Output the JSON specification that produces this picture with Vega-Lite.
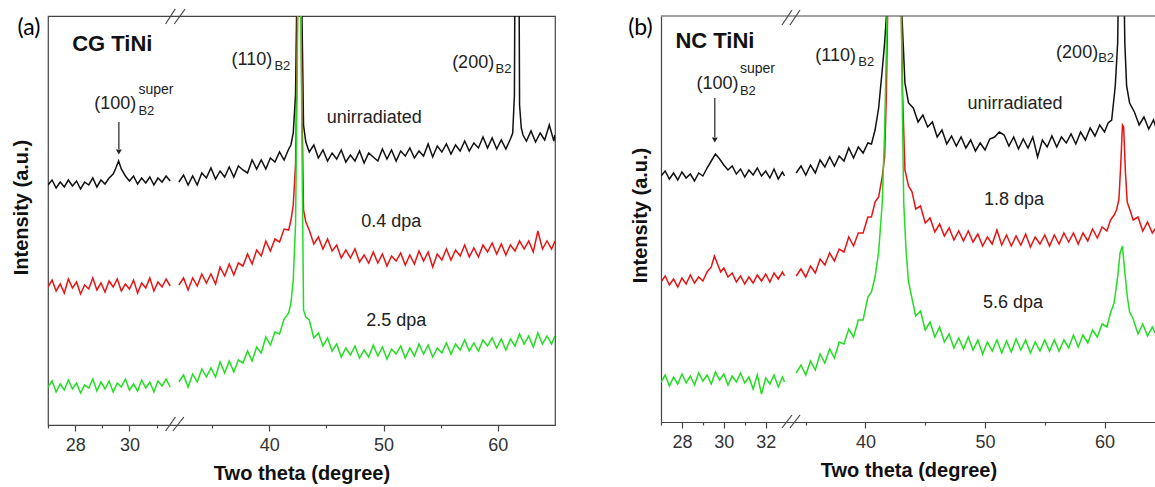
{
"$schema":"https://vega.github.io/schema/vega-lite/v6.json",
"background":"white",
"padding":{"left":10,"top":7,"right":0,"bottom":0},
"bounds":"flush",
"spacing":106,
"config":{"view":{"stroke":"#444","strokeWidth":1.2},"font":"Liberation Sans","text":{"font":"Liberation Sans"},"axis":{"labelFont":"Liberation Sans","titleFont":"Liberation Sans"}},
"datasets":{
"a":[
{"s":"k1","x":27,"y":240},{"s":"k1","x":27.15,"y":245},{"s":"k1","x":27.3,"y":237},{"s":"k1","x":27.45,"y":243},{"s":"k1","x":27.6,"y":238},{"s":"k1","x":27.75,"y":245},{"s":"k1","x":27.9,"y":239},{"s":"k1","x":28.05,"y":244},{"s":"k1","x":28.2,"y":236},{"s":"k1","x":28.35,"y":243},{"s":"k1","x":28.5,"y":240},{"s":"k1","x":28.65,"y":247},{"s":"k1","x":28.8,"y":238},{"s":"k1","x":28.95,"y":245},{"s":"k1","x":29.1,"y":241},{"s":"k1","x":29.25,"y":247},{"s":"k1","x":29.4,"y":251},{"s":"k1","x":29.5,"y":257},{"s":"k1","x":29.6,"y":264},{"s":"k1","x":29.7,"y":256},{"s":"k1","x":29.85,"y":249},{"s":"k1","x":30,"y":244},{"s":"k1","x":30.15,"y":249},{"s":"k1","x":30.3,"y":241},{"s":"k1","x":30.45,"y":247},{"s":"k1","x":30.6,"y":242},{"s":"k1","x":30.75,"y":248},{"s":"k1","x":30.9,"y":240},{"s":"k1","x":31.05,"y":247},{"s":"k1","x":31.2,"y":243},{"s":"k1","x":31.35,"y":249},{"s":"k1","x":31.5,"y":244},
{"s":"k2","x":32.1,"y":243},{"s":"k2","x":32.5,"y":250},{"s":"k2","x":32.9,"y":240},{"s":"k2","x":33.3,"y":249},{"s":"k2","x":33.7,"y":240},{"s":"k2","x":34.1,"y":252},{"s":"k2","x":34.5,"y":247},{"s":"k2","x":34.9,"y":257},{"s":"k2","x":35.3,"y":246},{"s":"k2","x":35.7,"y":254},{"s":"k2","x":36.1,"y":248},{"s":"k2","x":36.5,"y":258},{"s":"k2","x":36.9,"y":248},{"s":"k2","x":37.3,"y":259},{"s":"k2","x":37.7,"y":255},{"s":"k2","x":38.1,"y":252},{"s":"k2","x":38.5,"y":265},{"s":"k2","x":38.9,"y":256},{"s":"k2","x":39.3,"y":265},{"s":"k2","x":39.7,"y":256},{"s":"k2","x":40.1,"y":267},{"s":"k2","x":40.5,"y":263},{"s":"k2","x":40.9,"y":273},{"s":"k2","x":41.3,"y":265},{"s":"k2","x":41.7,"y":276},{"s":"k2","x":41.9,"y":280},{"s":"k2","x":42.1,"y":292},{"s":"k2","x":42.3,"y":330},{"s":"k2","x":42.45,"y":460},{"s":"k2","x":42.55,"y":560},{"s":"k2","x":42.7,"y":560},{"s":"k2","x":42.85,"y":420},{"s":"k2","x":43,"y":300},{"s":"k2","x":43.2,"y":283},{"s":"k2","x":43.5,"y":273},{"s":"k2","x":43.9,"y":280},{"s":"k2","x":44.3,"y":267},{"s":"k2","x":44.7,"y":275},{"s":"k2","x":45.1,"y":264},{"s":"k2","x":45.5,"y":272},{"s":"k2","x":45.9,"y":266},{"s":"k2","x":46.3,"y":275},{"s":"k2","x":46.7,"y":263},{"s":"k2","x":47.1,"y":270},{"s":"k2","x":47.5,"y":264},{"s":"k2","x":47.9,"y":274},{"s":"k2","x":48.3,"y":262},{"s":"k2","x":48.7,"y":272},{"s":"k2","x":49.1,"y":268},{"s":"k2","x":49.5,"y":264},{"s":"k2","x":49.9,"y":276},{"s":"k2","x":50.3,"y":266},{"s":"k2","x":50.7,"y":275},{"s":"k2","x":51.1,"y":264},{"s":"k2","x":51.5,"y":274},{"s":"k2","x":51.9,"y":269},{"s":"k2","x":52.3,"y":277},{"s":"k2","x":52.7,"y":267},{"s":"k2","x":53.1,"y":274},{"s":"k2","x":53.5,"y":269},{"s":"k2","x":53.9,"y":281},{"s":"k2","x":54.3,"y":268},{"s":"k2","x":54.7,"y":279},{"s":"k2","x":55.1,"y":273},{"s":"k2","x":55.5,"y":281},{"s":"k2","x":55.9,"y":271},{"s":"k2","x":56.3,"y":280},{"s":"k2","x":56.7,"y":274},{"s":"k2","x":57.1,"y":284},{"s":"k2","x":57.5,"y":274},{"s":"k2","x":57.9,"y":282},{"s":"k2","x":58.3,"y":277},{"s":"k2","x":58.7,"y":288},{"s":"k2","x":59.1,"y":277},{"s":"k2","x":59.5,"y":287},{"s":"k2","x":59.9,"y":276},{"s":"k2","x":60.3,"y":285},{"s":"k2","x":60.7,"y":276},{"s":"k2","x":61.1,"y":286},{"s":"k2","x":61.3,"y":292},{"s":"k2","x":61.45,"y":330},{"s":"k2","x":61.55,"y":600},{"s":"k2","x":61.8,"y":600},{"s":"k2","x":61.9,"y":320},{"s":"k2","x":62.05,"y":297},{"s":"k2","x":62.2,"y":290},{"s":"k2","x":62.5,"y":284},{"s":"k2","x":62.9,"y":294},{"s":"k2","x":63.3,"y":283},{"s":"k2","x":63.7,"y":292},{"s":"k2","x":64.1,"y":285},{"s":"k2","x":64.5,"y":300},{"s":"k2","x":64.9,"y":284},{"s":"k2","x":65,"y":290},
{"s":"r1","x":27,"y":138},{"s":"r1","x":27.15,"y":145},{"s":"r1","x":27.3,"y":134},{"s":"r1","x":27.45,"y":141},{"s":"r1","x":27.6,"y":132},{"s":"r1","x":27.75,"y":146},{"s":"r1","x":27.9,"y":137},{"s":"r1","x":28.05,"y":143},{"s":"r1","x":28.2,"y":131},{"s":"r1","x":28.35,"y":140},{"s":"r1","x":28.5,"y":136},{"s":"r1","x":28.65,"y":147},{"s":"r1","x":28.8,"y":135},{"s":"r1","x":28.95,"y":142},{"s":"r1","x":29.1,"y":133},{"s":"r1","x":29.25,"y":144},{"s":"r1","x":29.4,"y":138},{"s":"r1","x":29.55,"y":146},{"s":"r1","x":29.7,"y":134},{"s":"r1","x":29.85,"y":141},{"s":"r1","x":30,"y":136},{"s":"r1","x":30.15,"y":145},{"s":"r1","x":30.3,"y":132},{"s":"r1","x":30.45,"y":142},{"s":"r1","x":30.6,"y":137},{"s":"r1","x":30.75,"y":147},{"s":"r1","x":30.9,"y":134},{"s":"r1","x":31.05,"y":143},{"s":"r1","x":31.2,"y":138},{"s":"r1","x":31.35,"y":146},{"s":"r1","x":31.5,"y":139},
{"s":"r2","x":32.1,"y":140},{"s":"r2","x":32.5,"y":147},{"s":"r2","x":32.9,"y":135},{"s":"r2","x":33.3,"y":147},{"s":"r2","x":33.7,"y":139},{"s":"r2","x":34.1,"y":151},{"s":"r2","x":34.5,"y":142},{"s":"r2","x":34.9,"y":151},{"s":"r2","x":35.3,"y":141},{"s":"r2","x":35.7,"y":158},{"s":"r2","x":36.1,"y":149},{"s":"r2","x":36.5,"y":161},{"s":"r2","x":36.9,"y":150},{"s":"r2","x":37.3,"y":162},{"s":"r2","x":37.7,"y":159},{"s":"r2","x":38.1,"y":171},{"s":"r2","x":38.5,"y":161},{"s":"r2","x":38.9,"y":175},{"s":"r2","x":39.3,"y":169},{"s":"r2","x":39.7,"y":184},{"s":"r2","x":40.1,"y":174},{"s":"r2","x":40.5,"y":186},{"s":"r2","x":40.9,"y":183},{"s":"r2","x":41.3,"y":196},{"s":"r2","x":41.7,"y":195},{"s":"r2","x":41.9,"y":205},{"s":"r2","x":42.1,"y":220},{"s":"r2","x":42.3,"y":260},{"s":"r2","x":42.45,"y":380},{"s":"r2","x":42.55,"y":520},{"s":"r2","x":42.7,"y":520},{"s":"r2","x":42.85,"y":330},{"s":"r2","x":43,"y":215},{"s":"r2","x":43.2,"y":203},{"s":"r2","x":43.5,"y":195},{"s":"r2","x":43.9,"y":181},{"s":"r2","x":44.3,"y":188},{"s":"r2","x":44.7,"y":176},{"s":"r2","x":45.1,"y":186},{"s":"r2","x":45.5,"y":174},{"s":"r2","x":45.9,"y":180},{"s":"r2","x":46.3,"y":167},{"s":"r2","x":46.7,"y":175},{"s":"r2","x":47.1,"y":167},{"s":"r2","x":47.5,"y":176},{"s":"r2","x":47.9,"y":163},{"s":"r2","x":48.3,"y":170},{"s":"r2","x":48.7,"y":162},{"s":"r2","x":49.1,"y":173},{"s":"r2","x":49.5,"y":162},{"s":"r2","x":49.9,"y":171},{"s":"r2","x":50.3,"y":159},{"s":"r2","x":50.7,"y":169},{"s":"r2","x":51.1,"y":164},{"s":"r2","x":51.5,"y":172},{"s":"r2","x":51.9,"y":160},{"s":"r2","x":52.3,"y":170},{"s":"r2","x":52.7,"y":161},{"s":"r2","x":53.1,"y":174},{"s":"r2","x":53.5,"y":164},{"s":"r2","x":53.9,"y":173},{"s":"r2","x":54.3,"y":158},{"s":"r2","x":54.7,"y":171},{"s":"r2","x":55.1,"y":165},{"s":"r2","x":55.5,"y":176},{"s":"r2","x":55.9,"y":165},{"s":"r2","x":56.3,"y":175},{"s":"r2","x":56.7,"y":169},{"s":"r2","x":57.1,"y":180},{"s":"r2","x":57.5,"y":168},{"s":"r2","x":57.9,"y":177},{"s":"r2","x":58.3,"y":168},{"s":"r2","x":58.7,"y":180},{"s":"r2","x":59.1,"y":173},{"s":"r2","x":59.5,"y":182},{"s":"r2","x":59.9,"y":171},{"s":"r2","x":60.3,"y":181},{"s":"r2","x":60.7,"y":170},{"s":"r2","x":61.1,"y":180},{"s":"r2","x":61.5,"y":174},{"s":"r2","x":61.9,"y":184},{"s":"r2","x":62.3,"y":176},{"s":"r2","x":62.7,"y":184},{"s":"r2","x":63.1,"y":173},{"s":"r2","x":63.5,"y":194},{"s":"r2","x":63.9,"y":176},{"s":"r2","x":64.3,"y":184},{"s":"r2","x":64.7,"y":176},{"s":"r2","x":65,"y":184},
{"s":"g1","x":27,"y":38},{"s":"g1","x":27.15,"y":44},{"s":"g1","x":27.3,"y":33},{"s":"g1","x":27.45,"y":41},{"s":"g1","x":27.6,"y":35},{"s":"g1","x":27.75,"y":45},{"s":"g1","x":27.9,"y":36},{"s":"g1","x":28.05,"y":42},{"s":"g1","x":28.2,"y":32},{"s":"g1","x":28.35,"y":40},{"s":"g1","x":28.5,"y":37},{"s":"g1","x":28.65,"y":46},{"s":"g1","x":28.8,"y":34},{"s":"g1","x":28.95,"y":43},{"s":"g1","x":29.1,"y":36},{"s":"g1","x":29.25,"y":44},{"s":"g1","x":29.4,"y":33},{"s":"g1","x":29.55,"y":42},{"s":"g1","x":29.7,"y":38},{"s":"g1","x":29.85,"y":46},{"s":"g1","x":30,"y":35},{"s":"g1","x":30.15,"y":41},{"s":"g1","x":30.3,"y":34},{"s":"g1","x":30.45,"y":45},{"s":"g1","x":30.6,"y":37},{"s":"g1","x":30.75,"y":43},{"s":"g1","x":30.9,"y":33},{"s":"g1","x":31.05,"y":44},{"s":"g1","x":31.2,"y":39},{"s":"g1","x":31.35,"y":46},{"s":"g1","x":31.5,"y":38},
{"s":"g2","x":32.1,"y":43},{"s":"g2","x":32.5,"y":50},{"s":"g2","x":32.9,"y":38},{"s":"g2","x":33.3,"y":51},{"s":"g2","x":33.7,"y":43},{"s":"g2","x":34.1,"y":56},{"s":"g2","x":34.5,"y":48},{"s":"g2","x":34.9,"y":57},{"s":"g2","x":35.3,"y":48},{"s":"g2","x":35.7,"y":63},{"s":"g2","x":36.1,"y":52},{"s":"g2","x":36.5,"y":64},{"s":"g2","x":36.9,"y":53},{"s":"g2","x":37.3,"y":65},{"s":"g2","x":37.7,"y":62},{"s":"g2","x":38.1,"y":74},{"s":"g2","x":38.5,"y":64},{"s":"g2","x":38.9,"y":78},{"s":"g2","x":39.3,"y":72},{"s":"g2","x":39.7,"y":88},{"s":"g2","x":40.1,"y":80},{"s":"g2","x":40.5,"y":93},{"s":"g2","x":40.9,"y":91},{"s":"g2","x":41.3,"y":106},{"s":"g2","x":41.7,"y":112},{"s":"g2","x":41.9,"y":122},{"s":"g2","x":42.1,"y":145},{"s":"g2","x":42.3,"y":200},{"s":"g2","x":42.45,"y":350},{"s":"g2","x":42.55,"y":520},{"s":"g2","x":42.7,"y":520},{"s":"g2","x":42.85,"y":300},{"s":"g2","x":43,"y":115},{"s":"g2","x":43.2,"y":108},{"s":"g2","x":43.5,"y":105},{"s":"g2","x":43.9,"y":87},{"s":"g2","x":44.3,"y":92},{"s":"g2","x":44.7,"y":79},{"s":"g2","x":45.1,"y":87},{"s":"g2","x":45.5,"y":74},{"s":"g2","x":45.9,"y":81},{"s":"g2","x":46.3,"y":68},{"s":"g2","x":46.7,"y":77},{"s":"g2","x":47.1,"y":70},{"s":"g2","x":47.5,"y":79},{"s":"g2","x":47.9,"y":67},{"s":"g2","x":48.3,"y":75},{"s":"g2","x":48.7,"y":68},{"s":"g2","x":49.1,"y":80},{"s":"g2","x":49.5,"y":69},{"s":"g2","x":49.9,"y":78},{"s":"g2","x":50.3,"y":66},{"s":"g2","x":50.7,"y":76},{"s":"g2","x":51.1,"y":71},{"s":"g2","x":51.5,"y":79},{"s":"g2","x":51.9,"y":67},{"s":"g2","x":52.3,"y":77},{"s":"g2","x":52.7,"y":69},{"s":"g2","x":53.1,"y":81},{"s":"g2","x":53.5,"y":71},{"s":"g2","x":53.9,"y":80},{"s":"g2","x":54.3,"y":68},{"s":"g2","x":54.7,"y":77},{"s":"g2","x":55.1,"y":72},{"s":"g2","x":55.5,"y":82},{"s":"g2","x":55.9,"y":71},{"s":"g2","x":56.3,"y":81},{"s":"g2","x":56.7,"y":75},{"s":"g2","x":57.1,"y":85},{"s":"g2","x":57.5,"y":74},{"s":"g2","x":57.9,"y":82},{"s":"g2","x":58.3,"y":74},{"s":"g2","x":58.7,"y":85},{"s":"g2","x":59.1,"y":79},{"s":"g2","x":59.5,"y":87},{"s":"g2","x":59.9,"y":77},{"s":"g2","x":60.3,"y":86},{"s":"g2","x":60.7,"y":75},{"s":"g2","x":61.1,"y":86},{"s":"g2","x":61.5,"y":79},{"s":"g2","x":61.9,"y":91},{"s":"g2","x":62.3,"y":81},{"s":"g2","x":62.7,"y":89},{"s":"g2","x":63.1,"y":78},{"s":"g2","x":63.5,"y":92},{"s":"g2","x":63.9,"y":81},{"s":"g2","x":64.3,"y":89},{"s":"g2","x":64.7,"y":81},{"s":"g2","x":65,"y":89}
],
"b":[
{"s":"k1","x":27,"y":246},{"s":"k1","x":27.2,"y":251},{"s":"k1","x":27.4,"y":243},{"s":"k1","x":27.6,"y":249},{"s":"k1","x":27.8,"y":242},{"s":"k1","x":28,"y":250},{"s":"k1","x":28.2,"y":244},{"s":"k1","x":28.4,"y":248},{"s":"k1","x":28.6,"y":241},{"s":"k1","x":28.8,"y":249},{"s":"k1","x":29,"y":246},{"s":"k1","x":29.2,"y":254},{"s":"k1","x":29.4,"y":261},{"s":"k1","x":29.6,"y":268},{"s":"k1","x":29.8,"y":263},{"s":"k1","x":30,"y":257},{"s":"k1","x":30.2,"y":252},{"s":"k1","x":30.4,"y":256},{"s":"k1","x":30.6,"y":248},{"s":"k1","x":30.8,"y":253},{"s":"k1","x":31,"y":245},{"s":"k1","x":31.2,"y":252},{"s":"k1","x":31.4,"y":247},{"s":"k1","x":31.6,"y":254},{"s":"k1","x":31.8,"y":246},{"s":"k1","x":32,"y":251},{"s":"k1","x":32.2,"y":244},{"s":"k1","x":32.4,"y":253},{"s":"k1","x":32.6,"y":243},{"s":"k1","x":32.8,"y":250},{"s":"k1","x":32.9,"y":246},
{"s":"k2","x":34.2,"y":249},{"s":"k2","x":34.6,"y":256},{"s":"k2","x":35,"y":247},{"s":"k2","x":35.4,"y":257},{"s":"k2","x":35.8,"y":249},{"s":"k2","x":36.2,"y":262},{"s":"k2","x":36.6,"y":255},{"s":"k2","x":37,"y":265},{"s":"k2","x":37.4,"y":256},{"s":"k2","x":37.8,"y":266},{"s":"k2","x":38.2,"y":261},{"s":"k2","x":38.6,"y":274},{"s":"k2","x":39,"y":264},{"s":"k2","x":39.4,"y":275},{"s":"k2","x":39.8,"y":269},{"s":"k2","x":40.2,"y":279},{"s":"k2","x":40.5,"y":278},{"s":"k2","x":40.8,"y":292},{"s":"k2","x":41.1,"y":314},{"s":"k2","x":41.4,"y":352},{"s":"k2","x":41.6,"y":379},{"s":"k2","x":41.75,"y":406},{"s":"k2","x":42,"y":500},{"s":"k2","x":42.4,"y":560},{"s":"k2","x":42.8,"y":500},{"s":"k2","x":43.05,"y":406},{"s":"k2","x":43.3,"y":339},{"s":"k2","x":43.6,"y":319},{"s":"k2","x":44,"y":314},{"s":"k2","x":44.4,"y":300},{"s":"k2","x":44.8,"y":307},{"s":"k2","x":45.2,"y":295},{"s":"k2","x":45.6,"y":300},{"s":"k2","x":46,"y":285},{"s":"k2","x":46.4,"y":292},{"s":"k2","x":46.8,"y":278},{"s":"k2","x":47.2,"y":286},{"s":"k2","x":47.6,"y":276},{"s":"k2","x":48,"y":285},{"s":"k2","x":48.4,"y":274},{"s":"k2","x":48.8,"y":282},{"s":"k2","x":49.2,"y":271},{"s":"k2","x":49.6,"y":279},{"s":"k2","x":50,"y":272},{"s":"k2","x":50.4,"y":283},{"s":"k2","x":50.8,"y":285},{"s":"k2","x":51.2,"y":290},{"s":"k2","x":51.6,"y":287},{"s":"k2","x":52,"y":276},{"s":"k2","x":52.4,"y":285},{"s":"k2","x":52.8,"y":273},{"s":"k2","x":53.2,"y":283},{"s":"k2","x":53.6,"y":274},{"s":"k2","x":54,"y":285},{"s":"k2","x":54.4,"y":265},{"s":"k2","x":54.8,"y":282},{"s":"k2","x":55.2,"y":275},{"s":"k2","x":55.6,"y":286},{"s":"k2","x":56,"y":275},{"s":"k2","x":56.4,"y":285},{"s":"k2","x":56.8,"y":279},{"s":"k2","x":57.2,"y":288},{"s":"k2","x":57.6,"y":278},{"s":"k2","x":58,"y":290},{"s":"k2","x":58.4,"y":282},{"s":"k2","x":58.8,"y":294},{"s":"k2","x":59.2,"y":286},{"s":"k2","x":59.6,"y":297},{"s":"k2","x":60,"y":290},{"s":"k2","x":60.3,"y":299},{"s":"k2","x":60.6,"y":302},{"s":"k2","x":60.9,"y":336},{"s":"k2","x":61.1,"y":379},{"s":"k2","x":61.2,"y":460},{"s":"k2","x":61.4,"y":520},{"s":"k2","x":61.6,"y":460},{"s":"k2","x":61.7,"y":379},{"s":"k2","x":61.85,"y":336},{"s":"k2","x":62.1,"y":319},{"s":"k2","x":62.5,"y":310},{"s":"k2","x":62.9,"y":297},{"s":"k2","x":63.3,"y":305},{"s":"k2","x":63.7,"y":293},{"s":"k2","x":64.1,"y":302},{"s":"k2","x":64.4,"y":291},
{"s":"r1","x":27,"y":140},{"s":"r1","x":27.2,"y":146},{"s":"r1","x":27.4,"y":137},{"s":"r1","x":27.6,"y":143},{"s":"r1","x":27.8,"y":135},{"s":"r1","x":28,"y":144},{"s":"r1","x":28.2,"y":138},{"s":"r1","x":28.4,"y":147},{"s":"r1","x":28.6,"y":139},{"s":"r1","x":28.8,"y":145},{"s":"r1","x":29,"y":141},{"s":"r1","x":29.2,"y":150},{"s":"r1","x":29.4,"y":155},{"s":"r1","x":29.55,"y":166},{"s":"r1","x":29.7,"y":158},{"s":"r1","x":29.85,"y":150},{"s":"r1","x":30,"y":154},{"s":"r1","x":30.2,"y":145},{"s":"r1","x":30.4,"y":149},{"s":"r1","x":30.6,"y":140},{"s":"r1","x":30.8,"y":146},{"s":"r1","x":31,"y":138},{"s":"r1","x":31.2,"y":145},{"s":"r1","x":31.4,"y":139},{"s":"r1","x":31.6,"y":147},{"s":"r1","x":31.8,"y":141},{"s":"r1","x":32,"y":148},{"s":"r1","x":32.2,"y":140},{"s":"r1","x":32.4,"y":149},{"s":"r1","x":32.6,"y":143},{"s":"r1","x":32.8,"y":150},{"s":"r1","x":32.9,"y":146},
{"s":"r2","x":34.2,"y":146},{"s":"r2","x":34.6,"y":153},{"s":"r2","x":35,"y":145},{"s":"r2","x":35.4,"y":156},{"s":"r2","x":35.8,"y":149},{"s":"r2","x":36.2,"y":163},{"s":"r2","x":36.6,"y":157},{"s":"r2","x":37,"y":169},{"s":"r2","x":37.4,"y":161},{"s":"r2","x":37.8,"y":173},{"s":"r2","x":38.2,"y":170},{"s":"r2","x":38.6,"y":185},{"s":"r2","x":39,"y":176},{"s":"r2","x":39.4,"y":189},{"s":"r2","x":39.8,"y":189},{"s":"r2","x":40.2,"y":205},{"s":"r2","x":40.5,"y":205},{"s":"r2","x":40.8,"y":220},{"s":"r2","x":41.1,"y":225},{"s":"r2","x":41.4,"y":245},{"s":"r2","x":41.6,"y":265},{"s":"r2","x":41.75,"y":330},{"s":"r2","x":41.85,"y":406},{"s":"r2","x":42,"y":500},{"s":"r2","x":42.4,"y":560},{"s":"r2","x":42.9,"y":500},{"s":"r2","x":43,"y":406},{"s":"r2","x":43.1,"y":330},{"s":"r2","x":43.3,"y":252},{"s":"r2","x":43.6,"y":236},{"s":"r2","x":43.9,"y":230},{"s":"r2","x":44.2,"y":213},{"s":"r2","x":44.6,"y":216},{"s":"r2","x":45,"y":199},{"s":"r2","x":45.4,"y":204},{"s":"r2","x":45.8,"y":190},{"s":"r2","x":46.2,"y":198},{"s":"r2","x":46.6,"y":186},{"s":"r2","x":47,"y":194},{"s":"r2","x":47.4,"y":182},{"s":"r2","x":47.8,"y":191},{"s":"r2","x":48.2,"y":181},{"s":"r2","x":48.6,"y":191},{"s":"r2","x":49,"y":180},{"s":"r2","x":49.4,"y":188},{"s":"r2","x":49.8,"y":176},{"s":"r2","x":50.2,"y":185},{"s":"r2","x":50.6,"y":178},{"s":"r2","x":51,"y":192},{"s":"r2","x":51.4,"y":177},{"s":"r2","x":51.8,"y":187},{"s":"r2","x":52.2,"y":176},{"s":"r2","x":52.6,"y":186},{"s":"r2","x":53,"y":177},{"s":"r2","x":53.4,"y":188},{"s":"r2","x":53.8,"y":175},{"s":"r2","x":54.2,"y":185},{"s":"r2","x":54.6,"y":178},{"s":"r2","x":55,"y":187},{"s":"r2","x":55.4,"y":176},{"s":"r2","x":55.8,"y":187},{"s":"r2","x":56.2,"y":178},{"s":"r2","x":56.6,"y":189},{"s":"r2","x":57,"y":180},{"s":"r2","x":57.4,"y":189},{"s":"r2","x":57.8,"y":178},{"s":"r2","x":58.2,"y":189},{"s":"r2","x":58.6,"y":181},{"s":"r2","x":59,"y":193},{"s":"r2","x":59.4,"y":184},{"s":"r2","x":59.8,"y":195},{"s":"r2","x":60.2,"y":191},{"s":"r2","x":60.5,"y":202},{"s":"r2","x":60.8,"y":207},{"s":"r2","x":61,"y":212},{"s":"r2","x":61.2,"y":222},{"s":"r2","x":61.35,"y":255},{"s":"r2","x":61.5,"y":297},{"s":"r2","x":61.6,"y":295},{"s":"r2","x":61.75,"y":250},{"s":"r2","x":61.9,"y":220},{"s":"r2","x":62.1,"y":213},{"s":"r2","x":62.4,"y":202},{"s":"r2","x":62.8,"y":205},{"s":"r2","x":63.2,"y":191},{"s":"r2","x":63.6,"y":200},{"s":"r2","x":64,"y":189},{"s":"r2","x":64.4,"y":196},
{"s":"g1","x":27,"y":40},{"s":"g1","x":27.2,"y":47},{"s":"g1","x":27.4,"y":36},{"s":"g1","x":27.6,"y":45},{"s":"g1","x":27.8,"y":38},{"s":"g1","x":28,"y":48},{"s":"g1","x":28.2,"y":39},{"s":"g1","x":28.4,"y":46},{"s":"g1","x":28.6,"y":37},{"s":"g1","x":28.8,"y":49},{"s":"g1","x":29,"y":41},{"s":"g1","x":29.2,"y":47},{"s":"g1","x":29.4,"y":38},{"s":"g1","x":29.6,"y":50},{"s":"g1","x":29.8,"y":42},{"s":"g1","x":30,"y":48},{"s":"g1","x":30.2,"y":37},{"s":"g1","x":30.4,"y":46},{"s":"g1","x":30.6,"y":40},{"s":"g1","x":30.8,"y":49},{"s":"g1","x":31,"y":39},{"s":"g1","x":31.2,"y":45},{"s":"g1","x":31.4,"y":33},{"s":"g1","x":31.6,"y":47},{"s":"g1","x":31.8,"y":28},{"s":"g1","x":32,"y":44},{"s":"g1","x":32.2,"y":38},{"s":"g1","x":32.4,"y":47},{"s":"g1","x":32.6,"y":35},{"s":"g1","x":32.8,"y":45},{"s":"g1","x":32.9,"y":40},
{"s":"g2","x":34.2,"y":49},{"s":"g2","x":34.6,"y":57},{"s":"g2","x":35,"y":47},{"s":"g2","x":35.4,"y":61},{"s":"g2","x":35.8,"y":52},{"s":"g2","x":36.2,"y":68},{"s":"g2","x":36.6,"y":59},{"s":"g2","x":37,"y":73},{"s":"g2","x":37.4,"y":64},{"s":"g2","x":37.8,"y":80},{"s":"g2","x":38.2,"y":78},{"s":"g2","x":38.6,"y":93},{"s":"g2","x":39,"y":85},{"s":"g2","x":39.4,"y":102},{"s":"g2","x":39.8,"y":102},{"s":"g2","x":40.2,"y":125},{"s":"g2","x":40.5,"y":130},{"s":"g2","x":40.8,"y":145},{"s":"g2","x":41.1,"y":170},{"s":"g2","x":41.4,"y":219},{"s":"g2","x":41.6,"y":290},{"s":"g2","x":41.8,"y":406},{"s":"g2","x":42.1,"y":500},{"s":"g2","x":42.4,"y":560},{"s":"g2","x":42.7,"y":500},{"s":"g2","x":43,"y":406},{"s":"g2","x":43.1,"y":300},{"s":"g2","x":43.2,"y":219},{"s":"g2","x":43.4,"y":170},{"s":"g2","x":43.6,"y":140},{"s":"g2","x":43.9,"y":123},{"s":"g2","x":44.2,"y":106},{"s":"g2","x":44.6,"y":111},{"s":"g2","x":45,"y":92},{"s":"g2","x":45.4,"y":100},{"s":"g2","x":45.8,"y":85},{"s":"g2","x":46.2,"y":95},{"s":"g2","x":46.6,"y":80},{"s":"g2","x":47,"y":88},{"s":"g2","x":47.4,"y":74},{"s":"g2","x":47.8,"y":84},{"s":"g2","x":48.2,"y":73},{"s":"g2","x":48.6,"y":85},{"s":"g2","x":49,"y":72},{"s":"g2","x":49.4,"y":82},{"s":"g2","x":49.8,"y":68},{"s":"g2","x":50.2,"y":80},{"s":"g2","x":50.6,"y":71},{"s":"g2","x":51,"y":82},{"s":"g2","x":51.4,"y":69},{"s":"g2","x":51.8,"y":81},{"s":"g2","x":52.2,"y":70},{"s":"g2","x":52.6,"y":83},{"s":"g2","x":53,"y":72},{"s":"g2","x":53.4,"y":82},{"s":"g2","x":53.8,"y":69},{"s":"g2","x":54.2,"y":80},{"s":"g2","x":54.6,"y":71},{"s":"g2","x":55,"y":82},{"s":"g2","x":55.4,"y":71},{"s":"g2","x":55.8,"y":82},{"s":"g2","x":56.2,"y":71},{"s":"g2","x":56.6,"y":82},{"s":"g2","x":57,"y":74},{"s":"g2","x":57.4,"y":87},{"s":"g2","x":57.8,"y":75},{"s":"g2","x":58.2,"y":87},{"s":"g2","x":58.6,"y":79},{"s":"g2","x":59,"y":92},{"s":"g2","x":59.4,"y":85},{"s":"g2","x":59.8,"y":98},{"s":"g2","x":60.2,"y":95},{"s":"g2","x":60.5,"y":109},{"s":"g2","x":60.8,"y":119},{"s":"g2","x":61.1,"y":145},{"s":"g2","x":61.3,"y":169},{"s":"g2","x":61.5,"y":176},{"s":"g2","x":61.7,"y":150},{"s":"g2","x":61.9,"y":126},{"s":"g2","x":62.1,"y":110},{"s":"g2","x":62.4,"y":103},{"s":"g2","x":62.8,"y":88},{"s":"g2","x":63.2,"y":98},{"s":"g2","x":63.6,"y":86},{"s":"g2","x":64,"y":95},{"s":"g2","x":64.4,"y":85}
]
},
"hconcat":[
{
"width":507,"height":409,
"layer":[
{"data":{"name":"a"},"mark":{"type":"line","clip":true,"strokeWidth":1.5},
"encoding":{
"x":{"field":"x","type":"quantitative","scale":{"domain":[27,31.6,32.0,65],"range":[0,124.9,129.8,507],"nice":false,"zero":false},
"axis":{"title":"Two theta (degree)","values":[27,28,29,30,31,35,40,45,50,55,60],"labelExpr":"indexof([28,30,40,50,60], datum.value) >= 0 ? datum.label : ''","tickSize":{"condition":{"test":"indexof([28,30,40,50,60], datum.value) >= 0","value":6},"value":3},"domain":false,"grid":false,"labelFontSize":18,"labelColor":"#333","tickColor":"#444","tickWidth":1.2,"labelPadding":5,"titleFontSize":20,"titleFontWeight":"bold","titlePadding":9,"titleColor":"#111","labelFlush":false,"labelOverlap":false}},
"y":{"field":"y","type":"quantitative","scale":{"domain":[0,409],"nice":false,"zero":false},
"axis":{"title":"Intensity (a.u.)","ticks":false,"labels":false,"domain":false,"grid":false,"titleFontSize":20,"titleFontWeight":"bold","titlePadding":17,"titleColor":"#111","titleY":191}},
"color":{"field":"s","type":"nominal","scale":{"domain":["k1","k2","r1","r2","g1","g2"],"range":["#111111","#111111","#e81414","#e81414","#22dd22","#22dd22"]},"legend":null}}},
{"data":{"values":[{"t":"(a)","x":26.3,"y":397}]},"mark":{"type":"text","font":"Lato","fontSize":23,"align":"center","baseline":"middle","color":"#000"},"encoding":{"x":{"field":"x","type":"quantitative"},"y":{"field":"y","type":"quantitative"},"text":{"field":"t"}}},
{"data":{"values":[{"t":"CG TiNi","x":27.89,"y":381}]},"mark":{"type":"text","fontSize":22,"fontWeight":"bold","align":"left","baseline":"middle","color":"#111"},"encoding":{"x":{"field":"x","type":"quantitative"},"y":{"field":"y","type":"quantitative"},"text":{"field":"t"}}},
{"data":{"values":[{"t":"(110)","x":36.7,"y":360},{"t":"(200)","x":56.0,"y":357},{"t":"(100)","x":28.7,"y":316}]},"mark":{"type":"text","fontSize":18,"align":"left","baseline":"alphabetic","color":"#222"},"encoding":{"x":{"field":"x","type":"quantitative"},"y":{"field":"y","type":"quantitative"},"text":{"field":"t"}}},
{"data":{"values":[{"t":"B2","x":40.45,"y":355},{"t":"B2","x":59.8,"y":352},{"t":"B2","x":30.33,"y":310}]},"mark":{"type":"text","fontSize":13,"align":"left","baseline":"alphabetic","color":"#222"},"encoding":{"x":{"field":"x","type":"quantitative"},"y":{"field":"y","type":"quantitative"},"text":{"field":"t"}}},
{"data":{"values":[{"t":"super","x":30.33,"y":331}]},"mark":{"type":"text","fontSize":14,"align":"left","baseline":"alphabetic","color":"#222"},"encoding":{"x":{"field":"x","type":"quantitative"},"y":{"field":"y","type":"quantitative"},"text":{"field":"t"}}},
{"data":{"values":[{"t":"unirradiated","x":49.19,"y":307},{"t":"0.4 dpa","x":50.68,"y":203},{"t":"2.5 dpa","x":51.12,"y":104}]},"mark":{"type":"text","fontSize":18,"align":"center","baseline":"middle","color":"#222"},"encoding":{"x":{"field":"x","type":"quantitative"},"y":{"field":"y","type":"quantitative"},"text":{"field":"t"}}},
{"data":{"values":[{"x":29.61,"y":303,"y2":276}]},"mark":{"type":"rule","color":"#222","strokeWidth":1.2},"encoding":{"x":{"field":"x","type":"quantitative"},"y":{"field":"y","type":"quantitative"},"y2":{"field":"y2"}}},
{"data":{"values":[{"x":29.61,"y":273}]},"mark":{"type":"point","shape":"triangle-down","filled":true,"size":35,"color":"#222","opacity":1},"encoding":{"x":{"field":"x","type":"quantitative"},"y":{"field":"y","type":"quantitative"}}},
{"data":{"values":[{"x":31.33,"x2":31.81,"y":-6,"y2":8},{"x":31.6,"x2":32.53,"y":-6,"y2":8},{"x":31.33,"x2":31.79,"y":401,"y2":416},{"x":31.71,"x2":32.64,"y":401,"y2":416}]},"mark":{"type":"rule","color":"#444","strokeWidth":1.2},"encoding":{"x":{"field":"x","type":"quantitative"},"x2":{"field":"x2"},"y":{"field":"y","type":"quantitative"},"y2":{"field":"y2"}}}
]
},
{
"width":495,"height":406,
"view":{"stroke":null},
"layer":[
{"data":{"name":"b"},"mark":{"type":"line","clip":true,"strokeWidth":1.5},
"encoding":{
"x":{"field":"x","type":"quantitative","scale":{"domain":[27,33.2,33.8,64.3],"range":[0,129.8,130.4,494.9],"nice":false,"zero":false},
"axis":{"title":"Two theta (degree)","values":[27,28,29,30,31,32,35,40,45,50,55,60],"labelExpr":"indexof([28,30,32,40,50,60], datum.value) >= 0 ? datum.label : ''","tickSize":{"condition":{"test":"indexof([28,30,32,40,50,60], datum.value) >= 0","value":6},"value":3},"domain":true,"domainColor":"#444","domainWidth":1.2,"grid":false,"labelFontSize":18,"labelColor":"#333","tickColor":"#444","tickWidth":1.2,"labelPadding":5,"titleFontSize":20,"titleFontWeight":"bold","titlePadding":9,"titleColor":"#111","labelFlush":false,"labelOverlap":false}},
"y":{"field":"y","type":"quantitative","scale":{"domain":[0,406],"nice":false,"zero":false},
"axis":{"title":"Intensity  (a.u.)","ticks":false,"labels":false,"domain":true,"domainColor":"#444","domainWidth":1.2,"grid":false,"titleFontSize":20,"titleFontWeight":"bold","titlePadding":11,"titleColor":"#111","titleY":199}},
"color":{"field":"s","type":"nominal","scale":{"domain":["k1","k2","r1","r2","g1","g2"],"range":["#111111","#111111","#e81414","#e81414","#22dd22","#22dd22"]},"legend":null}}},
{"data":{"values":[{}]},"mark":{"type":"rule","color":"#444","strokeWidth":1.2},"encoding":{"y":{"datum":406,"type":"quantitative"}}},
{"data":{"values":[{"t":"(b)","x":26.02,"y":394}]},"mark":{"type":"text","font":"Lato","fontSize":23,"align":"center","baseline":"middle","color":"#000"},"encoding":{"x":{"field":"x","type":"quantitative"},"y":{"field":"y","type":"quantitative"},"text":{"field":"t"}}},
{"data":{"values":[{"t":"NC TiNi","x":27.69,"y":381}]},"mark":{"type":"text","fontSize":22,"fontWeight":"bold","align":"left","baseline":"middle","color":"#111"},"encoding":{"x":{"field":"x","type":"quantitative"},"y":{"field":"y","type":"quantitative"},"text":{"field":"t"}}},
{"data":{"values":[{"t":"(110)","x":35.8,"y":361},{"t":"(200)","x":55.95,"y":364},{"t":"(100)","x":28.7,"y":333}]},"mark":{"type":"text","fontSize":18,"align":"left","baseline":"alphabetic","color":"#222"},"encoding":{"x":{"field":"x","type":"quantitative"},"y":{"field":"y","type":"quantitative"},"text":{"field":"t"}}},
{"data":{"values":[{"t":"B2","x":39.4,"y":356},{"t":"B2","x":59.47,"y":360},{"t":"B2","x":30.77,"y":327}]},"mark":{"type":"text","fontSize":13,"align":"left","baseline":"alphabetic","color":"#222"},"encoding":{"x":{"field":"x","type":"quantitative"},"y":{"field":"y","type":"quantitative"},"text":{"field":"t"}}},
{"data":{"values":[{"t":"super","x":30.77,"y":349}]},"mark":{"type":"text","fontSize":14,"align":"left","baseline":"alphabetic","color":"#222"},"encoding":{"x":{"field":"x","type":"quantitative"},"y":{"field":"y","type":"quantitative"},"text":{"field":"t"}}},
{"data":{"values":[{"t":"unirradiated","x":52.51,"y":318},{"t":"1.8 dpa","x":52.43,"y":222},{"t":"5.6 dpa","x":52.34,"y":119}]},"mark":{"type":"text","fontSize":18,"align":"center","baseline":"middle","color":"#222"},"encoding":{"x":{"field":"x","type":"quantitative"},"y":{"field":"y","type":"quantitative"},"text":{"field":"t"}}},
{"data":{"values":[{"x":29.57,"y":324,"y2":285}]},"mark":{"type":"rule","color":"#222","strokeWidth":1.2},"encoding":{"x":{"field":"x","type":"quantitative"},"y":{"field":"y","type":"quantitative"},"y2":{"field":"y2"}}},
{"data":{"values":[{"x":29.57,"y":282}]},"mark":{"type":"point","shape":"triangle-down","filled":true,"size":35,"color":"#222","opacity":1},"encoding":{"x":{"field":"x","type":"quantitative"},"y":{"field":"y","type":"quantitative"}}},
{"data":{"values":[{"x":32.78,"x2":33.85,"y":-6,"y2":7},{"x":33.16,"x2":34.52,"y":-6,"y2":7},{"x":32.78,"x2":33.85,"y":397,"y2":412},{"x":33.16,"x2":34.52,"y":397,"y2":412}]},"mark":{"type":"rule","color":"#444","strokeWidth":1.2},"encoding":{"x":{"field":"x","type":"quantitative"},"x2":{"field":"x2"},"y":{"field":"y","type":"quantitative"},"y2":{"field":"y2"}}}
]
}
]
}
